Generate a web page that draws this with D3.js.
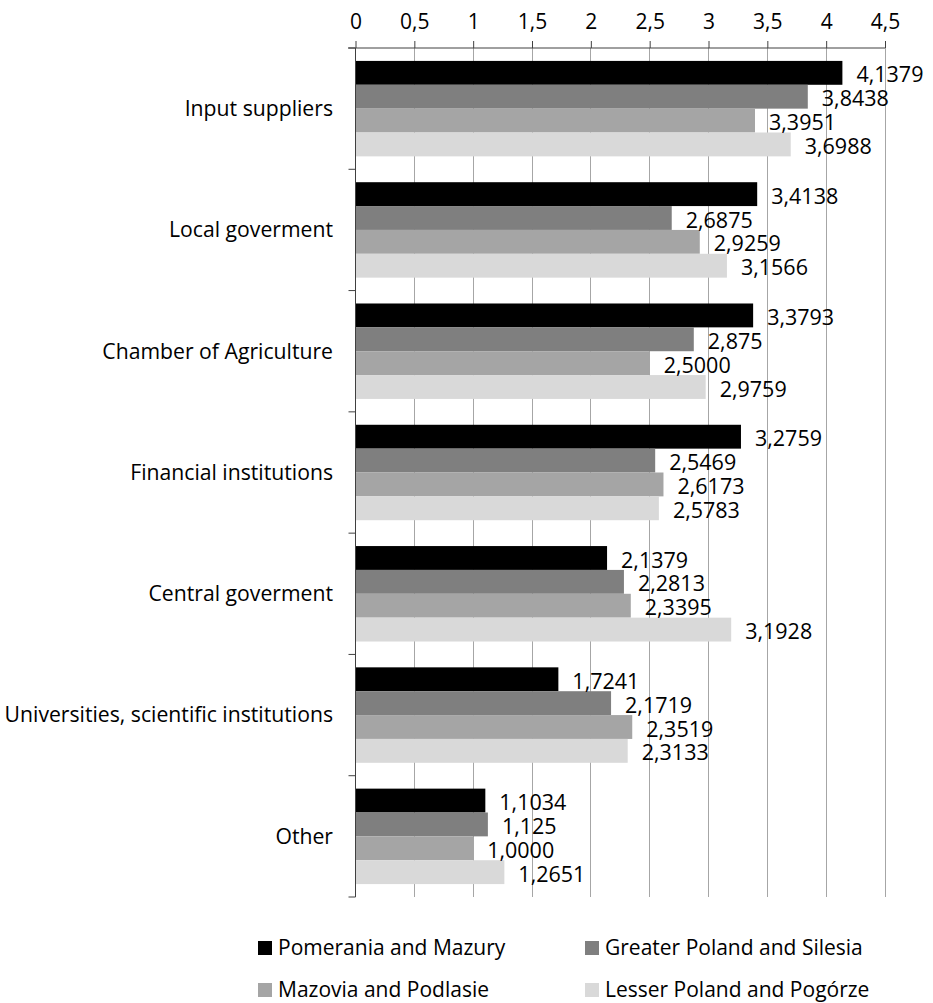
<!DOCTYPE html>
<html>
<head>
<meta charset="utf-8">
<script src="https://cdn.jsdelivr.net/npm/d3@7"></script>
<style>
  body { margin: 0; background: #fff; }
  svg { display: block; }
</style>
</head>
<body>
<div class="chart"></div>
<script>
const categories = [
  "Input suppliers",
  "Local goverment",
  "Chamber of Agriculture",
  "Financial institutions",
  "Central goverment",
  "Universities, scientific institutions",
  "Other"
]

const seriesNames = [
  "Pomerania and Mazury",
  "Greater Poland and Silesia",
  "Mazovia and Podlasie",
  "Lesser Poland and Pogórze"
]

const pomerania = [4.1379, 3.4138, 3.3793, 3.2759, 2.1379, 1.7241, 1.1034]
const greaterPoland = [3.8438, 2.6875, 2.875, 2.5469, 2.2813, 2.1719, 1.125]
const mazovia = [3.3951, 2.9259, 2.5000, 2.6173, 2.3395, 2.3519, 1.0000]
const lesserPoland = [3.6988, 3.1566, 2.9759, 2.5783, 3.1928, 2.3133, 1.2651]

// labels as printed in the source (decimals vary)
const pomeraniaLabels = ["4,1379", "3,4138", "3,3793", "3,2759", "2,1379", "1,7241", "1,1034"]
const greaterPolandLabels = ["3,8438", "2,6875", "2,875", "2,5469", "2,2813", "2,1719", "1,125"]
const mazoviaLabels = ["3,3951", "2,9259", "2,5000", "2,6173", "2,3395", "2,3519", "1,0000"]
const lesserPolandLabels = ["3,6988", "3,1566", "2,9759", "2,5783", "3,1928", "2,3133", "1,2651"]

const tickValues = [0, 0.5, 1, 1.5, 2, 2.5, 3, 3.5, 4, 4.5]

const colors = ["#000000", "#7f7f7f", "#a5a5a5", "#d9d9d9"]

const series = [
  { name: seriesNames[0], values: pomerania, labels: pomeraniaLabels },
  { name: seriesNames[1], values: greaterPoland, labels: greaterPolandLabels },
  { name: seriesNames[2], values: mazovia, labels: mazoviaLabels },
  { name: seriesNames[3], values: lesserPoland, labels: lesserPolandLabels }
]

const width = 933
const height = 1003
const font = "'Open Sans', sans-serif"

const x = d3.scaleLinear().domain([0, 4.5]).range([355.5, 885])
const y0 = d3.scaleBand().domain(categories).range([48, 897])
  .paddingInner(0.213).paddingOuter(0.1065)
const y1 = d3.scaleBand().domain(d3.range(series.length)).range([0, y0.bandwidth()])

const fmt = v => String(v).replace(".", ",")

const svg = d3.select(".chart").append("svg")
  .attr("width", width)
  .attr("height", height)
  .attr("font-family", font)

// gridlines
svg.append("g")
  .selectAll("line")
  .data(tickValues.slice(1))
  .join("line")
  .attr("x1", d => x(d)).attr("x2", d => x(d))
  .attr("y1", 48).attr("y2", 897)
  .attr("stroke", "#a6a6a6")
  .attr("stroke-width", 1)
  .attr("shape-rendering", "crispEdges")

// bars
const groups = svg.append("g")
  .selectAll("g")
  .data(categories)
  .join("g")
  .attr("transform", d => `translate(0,${y0(d)})`)

groups.selectAll("rect")
  .data((c, i) => series.map((s, j) => ({ j, v: s.values[i] })))
  .join("rect")
  .attr("x", x(0))
  .attr("y", d => y1(d.j))
  .attr("width", d => x(d.v) - x(0))
  .attr("height", y1.bandwidth())
  .attr("fill", d => colors[d.j])

groups.selectAll("text")
  .data((c, i) => series.map((s, j) => ({ j, v: s.values[i], label: s.labels[i] })))
  .join("text")
  .attr("x", d => x(d.v) + 14)
  .attr("y", d => y1(d.j) + y1.bandwidth() / 2 + 2)
  .attr("dy", "0.35em")
  .attr("font-size", 21.5)
  .attr("fill", "#000")
  .text(d => d.label)

// top axis
const xAxis = svg.append("g")
  .attr("transform", "translate(0,48)")
  .call(d3.axisTop(x).tickValues(tickValues).tickFormat(fmt).tickSizeOuter(0).tickSize(7).tickPadding(12))
xAxis.select(".domain").remove()
xAxis.selectAll("line").attr("stroke", "#404040")
xAxis.selectAll("text").attr("font-size", 21).attr("font-family", font).attr("fill", "#000")
xAxis.append("line")
  .attr("x1", 348).attr("x2", 885)
  .attr("stroke", "#404040")

// left axis
const yAxis = svg.append("g")
svg.append("line")
  .attr("x1", x(0)).attr("x2", x(0))
  .attr("y1", 48).attr("y2", 897)
  .attr("stroke", "#404040")
yAxis.selectAll("line")
  .data(d3.range(categories.length + 1))
  .join("line")
  .attr("x1", x(0) - 7).attr("x2", x(0))
  .attr("y1", i => 48 + i * y0.step()).attr("y2", i => 48 + i * y0.step())
  .attr("stroke", "#404040")

svg.append("g")
  .selectAll("text")
  .data(categories)
  .join("text")
  .attr("x", 333)
  .attr("y", d => y0(d) + y0.bandwidth() / 2)
  .attr("dy", "0.35em")
  .attr("text-anchor", "end")
  .attr("font-size", 21.2)
  .text(d => d)

// legend
const legendPos = [[258, 948], [585, 948], [258, 990], [585, 990]]
const legend = svg.append("g")
  .selectAll("g")
  .data(series)
  .join("g")
  .attr("transform", (d, i) => `translate(${legendPos[i][0]},${legendPos[i][1]})`)

legend.append("rect")
  .attr("x", 0).attr("y", -7)
  .attr("width", 14).attr("height", 14)
  .attr("fill", (d, i) => colors[i])

legend.append("text")
  .attr("x", 20)
  .attr("dy", "0.35em")
  .attr("font-size", 21)
  .text(d => d.name)
</script>
</body>
</html>
